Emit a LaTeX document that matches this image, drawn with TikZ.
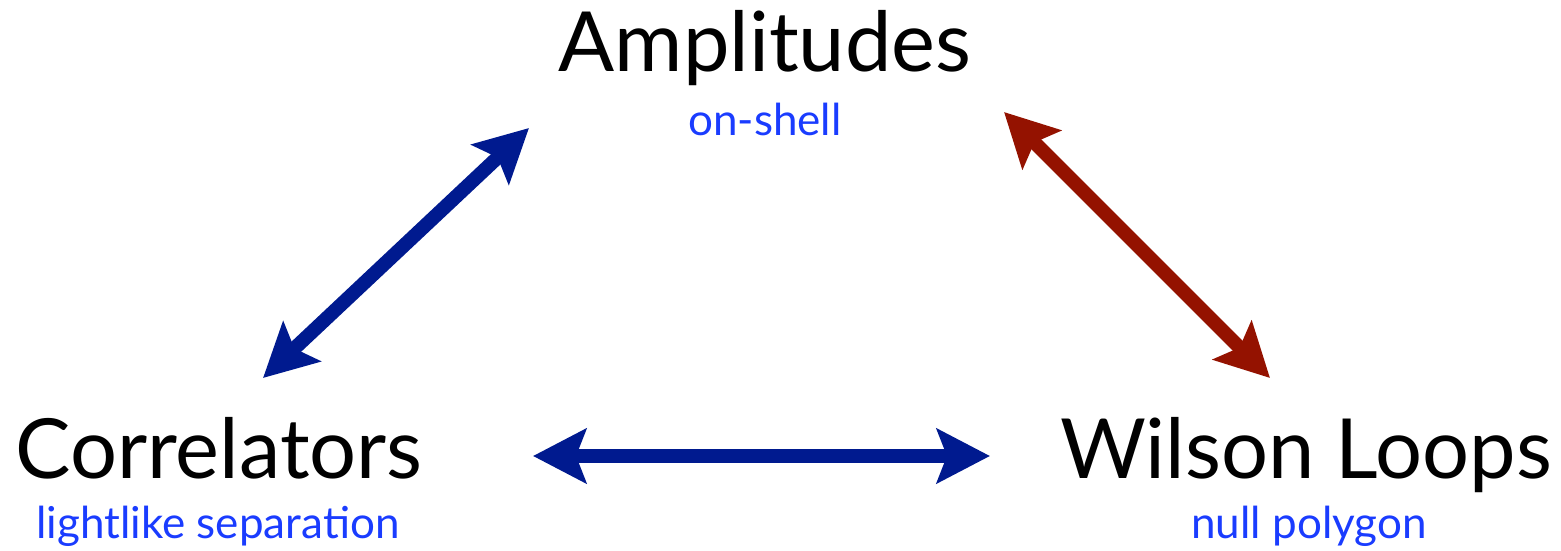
\documentclass[tikz,border=0pt]{standalone}
\usepackage{fontspec}
\setmainfont{Lato}
\usetikzlibrary{arrows.meta}
\definecolor{darkblue}{HTML}{001A8F}
\definecolor{darkred}{HTML}{941200}
\definecolor{lightblue}{HTML}{1A3CFF}
\tikzset{
  title/.style={anchor=base,inner sep=0pt,font=\fontsize{83}{90}\selectfont},
  sub/.style={anchor=base,inner sep=0pt,text=lightblue,font=\fontsize{44}{48}\selectfont},
  dbl/.style={line width=14pt,{Stealth[length=53pt,width=54pt,inset=10pt]}-{Stealth[length=53pt,width=54pt,inset=10pt]}},
}
\begin{document}
\begin{tikzpicture}[x=1pt,y=-1pt]
\useasboundingbox (0,0) rectangle (1561,551);
\node[title] (amp) at (765,72) {Amplitudes};
\node[sub] (ons) at (765,135) {on-shell};
\node[title] (cor) at (219,478) {Correlators};
\node[sub] (lls) at (218,538) {lightlike separation};
\node[title] (wil) at (1306,478) {Wilson Loops};
\node[sub] (np) at (1309,538) {null polygon};
\coordinate (b1) at (263,378);
\coordinate (b2) at (529,128);
\coordinate (r1) at (1004,112);
\coordinate (r2) at (1270,378);
\coordinate (h1) at (533,456);
\coordinate (h2) at (990,456);
\draw[dbl,darkblue] (b1) -- (b2);
\draw[dbl,darkred] (r1) -- (r2);
\draw[dbl,darkblue] (h1) -- (h2);
\end{tikzpicture}
\end{document}
